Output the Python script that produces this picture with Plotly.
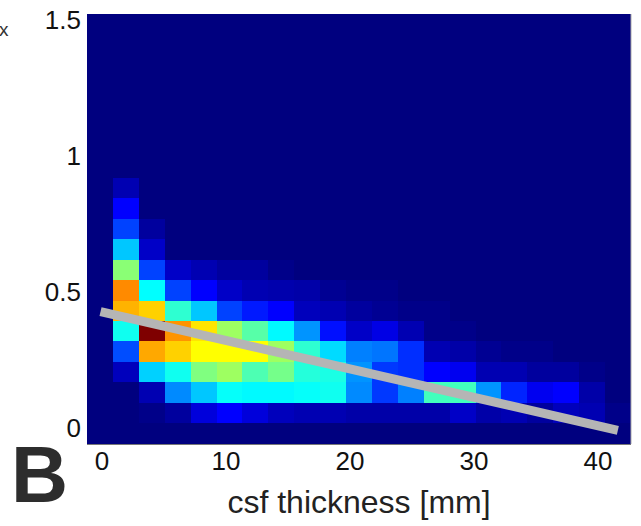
import plotly.graph_objects as go

# Density grid (rows bottom to top, 21 columns each) in colormap units
row00 = [0] * 21
row01 = [0, 0, .01, .03, .09, .125, .09, .06, .05, .05, .04, .04, .04, .04, .07, .04, .05, .03, .06, .05, .01]
row02 = [0, 0, .05, .26, .32, .38, .37, .37, .38, .39, .26, .18, .25, .44, .44, .27, .16, .11, .125, .04, 0]
row03 = [0, .06, .33, .39, .50, .53, .45, .49, .41, .40, .27, .18, .17, .125, .11, .05, .05, .03, .03, .01, 0]
row04 = [0, .20, .71, .67, .625, .625, .625, .53, .42, .34, .25, .24, .17, .05, .04, .02, .01, .01, 0, 0, 0]
row05 = [0, .39, 1.0, .73, .65, .53, .46, .37, .27, .14, .07, .10, .05, .01, .01, 0, 0, 0, 0, 0, 0]
row06 = [0, .70, .67, .42, .32, .19, .15, .125, .06, .05, .03, .02, .01, .01, 0, 0, 0, 0, 0, 0, 0]
row07 = [0, .74, .375, .19, .125, .07, .05, .045, .04, .02, .01, .01, 0, 0, 0, 0, 0, 0, 0, 0, 0]
row08 = [0, .51, .19, .07, .05, .03, .03, .01, 0, 0, 0, 0, 0, 0, 0, 0, 0, 0, 0, 0, 0]
row09 = [0, .32, .07, 0, 0, 0, 0, 0, 0, 0, 0, 0, 0, 0, 0, 0, 0, 0, 0, 0, 0]
row10 = [0, .19, .03, 0, 0, 0, 0, 0, 0, 0, 0, 0, 0, 0, 0, 0, 0, 0, 0, 0, 0]
row11 = [0, .125, 0, 0, 0, 0, 0, 0, 0, 0, 0, 0, 0, 0, 0, 0, 0, 0, 0, 0, 0]
row12 = [0, .05, 0, 0, 0, 0, 0, 0, 0, 0, 0, 0, 0, 0, 0, 0, 0, 0, 0, 0, 0]
upper_rows = [[0] * 21 for _ in range(8)]
grid = [row00, row01, row02, row03, row04, row05, row06, row07, row08, row09, row10, row11, row12] + upper_rows

fit_x = [-0.12, 41.6]
fit_y = [0.4276, -0.009]

x_ticks = [0, 10, 20, 30, 40]
y_ticks = [0, 0.5, 1, 1.5]
y_tick_labels = ["0", "0.5", "1", "1.5"]
x_title = "csf thickness [mm]"

jet = [[0, "#00007f"], [0.125, "#0000ff"], [0.375, "#00ffff"],
       [0.625, "#ffff00"], [0.875, "#ff0000"], [1, "#7f0000"]]

FONT = "Liberation Sans, Arial, sans-serif"

fig = go.Figure()
fig.add_trace(go.Heatmap(z=grid, x0=-0.166, dx=2.0887, y0=-0.0211, dy=0.0753,
                         colorscale=jet, zmin=0, zmax=1, showscale=False,
                         hoverinfo="skip"))
fig.add_trace(go.Scatter(x=fit_x, y=fit_y, mode="lines", showlegend=False,
                         line=dict(color="#b5b5b5", width=9)))

fig.update_layout(
    width=641, height=526, autosize=False,
    margin=dict(l=87, r=10, t=14, b=82, pad=0, autoexpand=False),
    paper_bgcolor="white", plot_bgcolor="#00007f",
    font=dict(family=FONT, color="#111111"),
    xaxis=dict(range=[-1.21, 42.66], tickvals=x_ticks, ticklen=0, showgrid=False,
               zeroline=False, showline=True, linecolor="#777777", linewidth=1,
               automargin=False, ticklabelstandoff=-6,
               tickfont=dict(size=26, family=FONT, color="#111111"),
               title=dict(text=x_title, font=dict(size=32, family=FONT, color="#222222"),
                          standoff=15)),
    yaxis=dict(range=[-0.0588, 1.522], tickvals=y_ticks, ticktext=y_tick_labels, ticklen=0,
               showgrid=False, zeroline=False, automargin=False, ticklabelstandoff=5,
               tickfont=dict(size=26, family=FONT, color="#111111")),
    shapes=[dict(type="line", xref="paper", yref="paper", x0=1, x1=1, y0=0, y1=1,
                 line=dict(color="#aaaaaa", width=1))],
    annotations=[
        dict(text="<b>B</b>", xref="paper", yref="paper", x=-0.142, y=0.036,
             xanchor="left", yanchor="top", showarrow=False, borderpad=0,
             font=dict(size=79, family=FONT, color="#2d2d2d")),
        dict(text="x", xref="paper", yref="paper", x=-0.165, y=0.965,
             xanchor="left", yanchor="middle", showarrow=False,
             font=dict(size=19, family=FONT, color="#333333")),
    ],
)
fig.write_html("out.html", config=dict(displayModeBar=False),
               post_script="document.body.style.margin='0';")
